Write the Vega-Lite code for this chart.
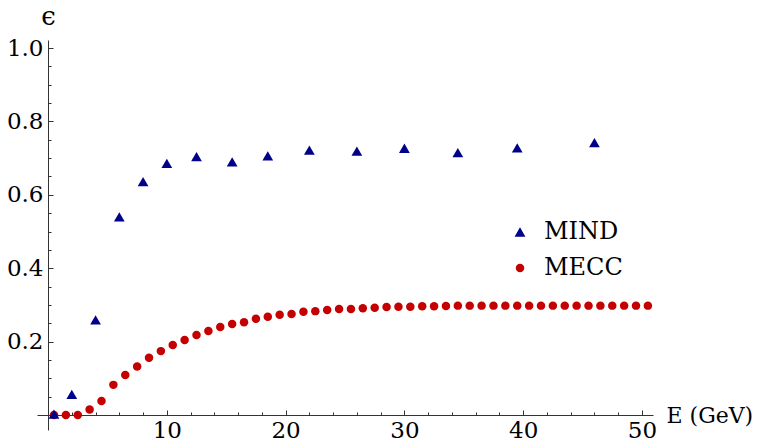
{
  "$schema": "https://vega.github.io/schema/vega-lite/v6.json",
  "width": 616,
  "height": 390,
  "autosize": {"type": "none"},
  "padding": {"left": 37, "top": 40, "right": 105, "bottom": 14},
  "background": "white",
  "config": {
    "view": {"stroke": null},
    "font": "DejaVu Serif",
    "axis": {"grid": false, "domainColor": "#333333", "tickColor": "#333333", "labelColor": "black", "labelFont": "DejaVu Serif", "labelFontSize": 23, "titleFont": "DejaVu Serif", "titleFontSize": 22, "titleFontWeight": "normal", "titleColor": "black"},
    "legend": {"labelFont": "DejaVu Serif"}
  },
  "data": {
    "values": [
      {"E": 0.5, "eff": 0.0, "series": "MECC"},
      {"E": 1.5, "eff": 0.0, "series": "MECC"},
      {"E": 2.5, "eff": 0.0, "series": "MECC"},
      {"E": 3.5, "eff": 0.015, "series": "MECC"},
      {"E": 4.5, "eff": 0.038, "series": "MECC"},
      {"E": 5.5, "eff": 0.082, "series": "MECC"},
      {"E": 6.5, "eff": 0.109, "series": "MECC"},
      {"E": 7.5, "eff": 0.132, "series": "MECC"},
      {"E": 8.5, "eff": 0.156, "series": "MECC"},
      {"E": 9.5, "eff": 0.174, "series": "MECC"},
      {"E": 10.5, "eff": 0.191, "series": "MECC"},
      {"E": 11.5, "eff": 0.204, "series": "MECC"},
      {"E": 12.5, "eff": 0.218, "series": "MECC"},
      {"E": 13.5, "eff": 0.229, "series": "MECC"},
      {"E": 14.5, "eff": 0.240, "series": "MECC"},
      {"E": 15.5, "eff": 0.248, "series": "MECC"},
      {"E": 16.5, "eff": 0.253, "series": "MECC"},
      {"E": 17.5, "eff": 0.262, "series": "MECC"},
      {"E": 18.5, "eff": 0.268, "series": "MECC"},
      {"E": 19.5, "eff": 0.273, "series": "MECC"},
      {"E": 20.5, "eff": 0.275, "series": "MECC"},
      {"E": 21.5, "eff": 0.281, "series": "MECC"},
      {"E": 22.5, "eff": 0.283, "series": "MECC"},
      {"E": 23.5, "eff": 0.286, "series": "MECC"},
      {"E": 24.5, "eff": 0.289, "series": "MECC"},
      {"E": 25.5, "eff": 0.289, "series": "MECC"},
      {"E": 26.5, "eff": 0.291, "series": "MECC"},
      {"E": 27.5, "eff": 0.292, "series": "MECC"},
      {"E": 28.5, "eff": 0.294, "series": "MECC"},
      {"E": 29.5, "eff": 0.295, "series": "MECC"},
      {"E": 30.5, "eff": 0.295, "series": "MECC"},
      {"E": 31.5, "eff": 0.296, "series": "MECC"},
      {"E": 32.5, "eff": 0.296, "series": "MECC"},
      {"E": 33.5, "eff": 0.297, "series": "MECC"},
      {"E": 34.5, "eff": 0.298, "series": "MECC"},
      {"E": 35.5, "eff": 0.298, "series": "MECC"},
      {"E": 36.5, "eff": 0.298, "series": "MECC"},
      {"E": 37.5, "eff": 0.298, "series": "MECC"},
      {"E": 38.5, "eff": 0.298, "series": "MECC"},
      {"E": 39.5, "eff": 0.298, "series": "MECC"},
      {"E": 40.5, "eff": 0.298, "series": "MECC"},
      {"E": 41.5, "eff": 0.298, "series": "MECC"},
      {"E": 42.5, "eff": 0.298, "series": "MECC"},
      {"E": 43.5, "eff": 0.298, "series": "MECC"},
      {"E": 44.5, "eff": 0.298, "series": "MECC"},
      {"E": 45.5, "eff": 0.298, "series": "MECC"},
      {"E": 46.5, "eff": 0.298, "series": "MECC"},
      {"E": 47.5, "eff": 0.298, "series": "MECC"},
      {"E": 48.5, "eff": 0.298, "series": "MECC"},
      {"E": 49.5, "eff": 0.298, "series": "MECC"},
      {"E": 50.5, "eff": 0.298, "series": "MECC"},
      {"E": 0.5, "eff": 0.002, "series": "MIND"},
      {"E": 2, "eff": 0.056, "series": "MIND"},
      {"E": 4, "eff": 0.259, "series": "MIND"},
      {"E": 6, "eff": 0.540, "series": "MIND"},
      {"E": 8, "eff": 0.636, "series": "MIND"},
      {"E": 10, "eff": 0.686, "series": "MIND"},
      {"E": 12.5, "eff": 0.704, "series": "MIND"},
      {"E": 15.5, "eff": 0.690, "series": "MIND"},
      {"E": 18.5, "eff": 0.706, "series": "MIND"},
      {"E": 22, "eff": 0.722, "series": "MIND"},
      {"E": 26, "eff": 0.719, "series": "MIND"},
      {"E": 30, "eff": 0.727, "series": "MIND"},
      {"E": 34.5, "eff": 0.715, "series": "MIND"},
      {"E": 39.5, "eff": 0.728, "series": "MIND"},
      {"E": 46, "eff": 0.742, "series": "MIND"}
    ]
  },
  "mark": {"type": "point", "filled": true, "opacity": 1},
  "encoding": {
    "x": {
      "field": "E", "type": "quantitative",
      "scale": {"domain": [-0.93, 50.93], "nice": false, "zero": false},
      "axis": {
        "title": "E (GeV)",
        "values": [2,4,6,8,10,12,14,16,18,20,22,24,26,28,30,32,34,36,38,40,42,44,46,48,50],
        "labelExpr": "datum.value % 10 === 0 ? datum.label : ''",
        "offset": -15,
        "tickSize": {"condition": {"test": "datum.value % 10 === 0", "value": -5}, "value": -3},
        "labelPadding": 9,
        "labelFlush": false,
        "labelOverlap": false,
        "titleAnchor": "start",
        "titleAlign": "left",
        "titleBaseline": "alphabetic",
        "titleX": 629,
        "titleY": 7
      }
    },
    "y": {
      "field": "eff", "type": "quantitative",
      "scale": {"domain": [-0.041, 1.022], "nice": false, "zero": false},
      "axis": {
        "title": "ϵ",
        "values": [0.05,0.1,0.15,0.2,0.25,0.3,0.35,0.4,0.45,0.5,0.55,0.6,0.65,0.7,0.75,0.8,0.85,0.9,0.95,1.0],
        "format": ".1f",
        "labelExpr": "round(datum.value * 100) % 20 === 0 ? datum.label : ''",
        "offset": -11,
        "tickSize": {"condition": {"test": "round(datum.value * 100) % 20 === 0", "value": -5}, "value": -3},
        "labelPadding": 10,
        "labelFlush": false,
        "labelOverlap": false,
        "titleAngle": 0,
        "titleAlign": "center",
        "titleBaseline": "middle",
        "titleFontSize": 26,
        "titleX": 0,
        "titleY": -24
      }
    },
    "color": {
      "field": "series", "type": "nominal",
      "scale": {"domain": ["MIND", "MECC"], "range": ["#00008B", "#C40000"]},
      "legend": {
        "title": null,
        "orient": "none",
        "legendX": 471,
        "legendY": 180,
        "padding": 0,
        "labelFontSize": 24,
        "labelOffset": 12,
        "rowPadding": 12,
        "symbolStrokeWidth": 0,
        "encode": {"labels": {"update": {"fill": {"signal": "datum.label === 'MIND' ? '#00008B' : '#C40000'"}}}}
      }
    },
    "shape": {
      "field": "series", "type": "nominal",
      "scale": {"domain": ["MIND", "MECC"], "range": ["triangle-up", "circle"]}
    },
    "size": {
      "field": "series", "type": "nominal",
      "scale": {"domain": ["MIND", "MECC"], "range": [115, 72]}
    }
  }
}
